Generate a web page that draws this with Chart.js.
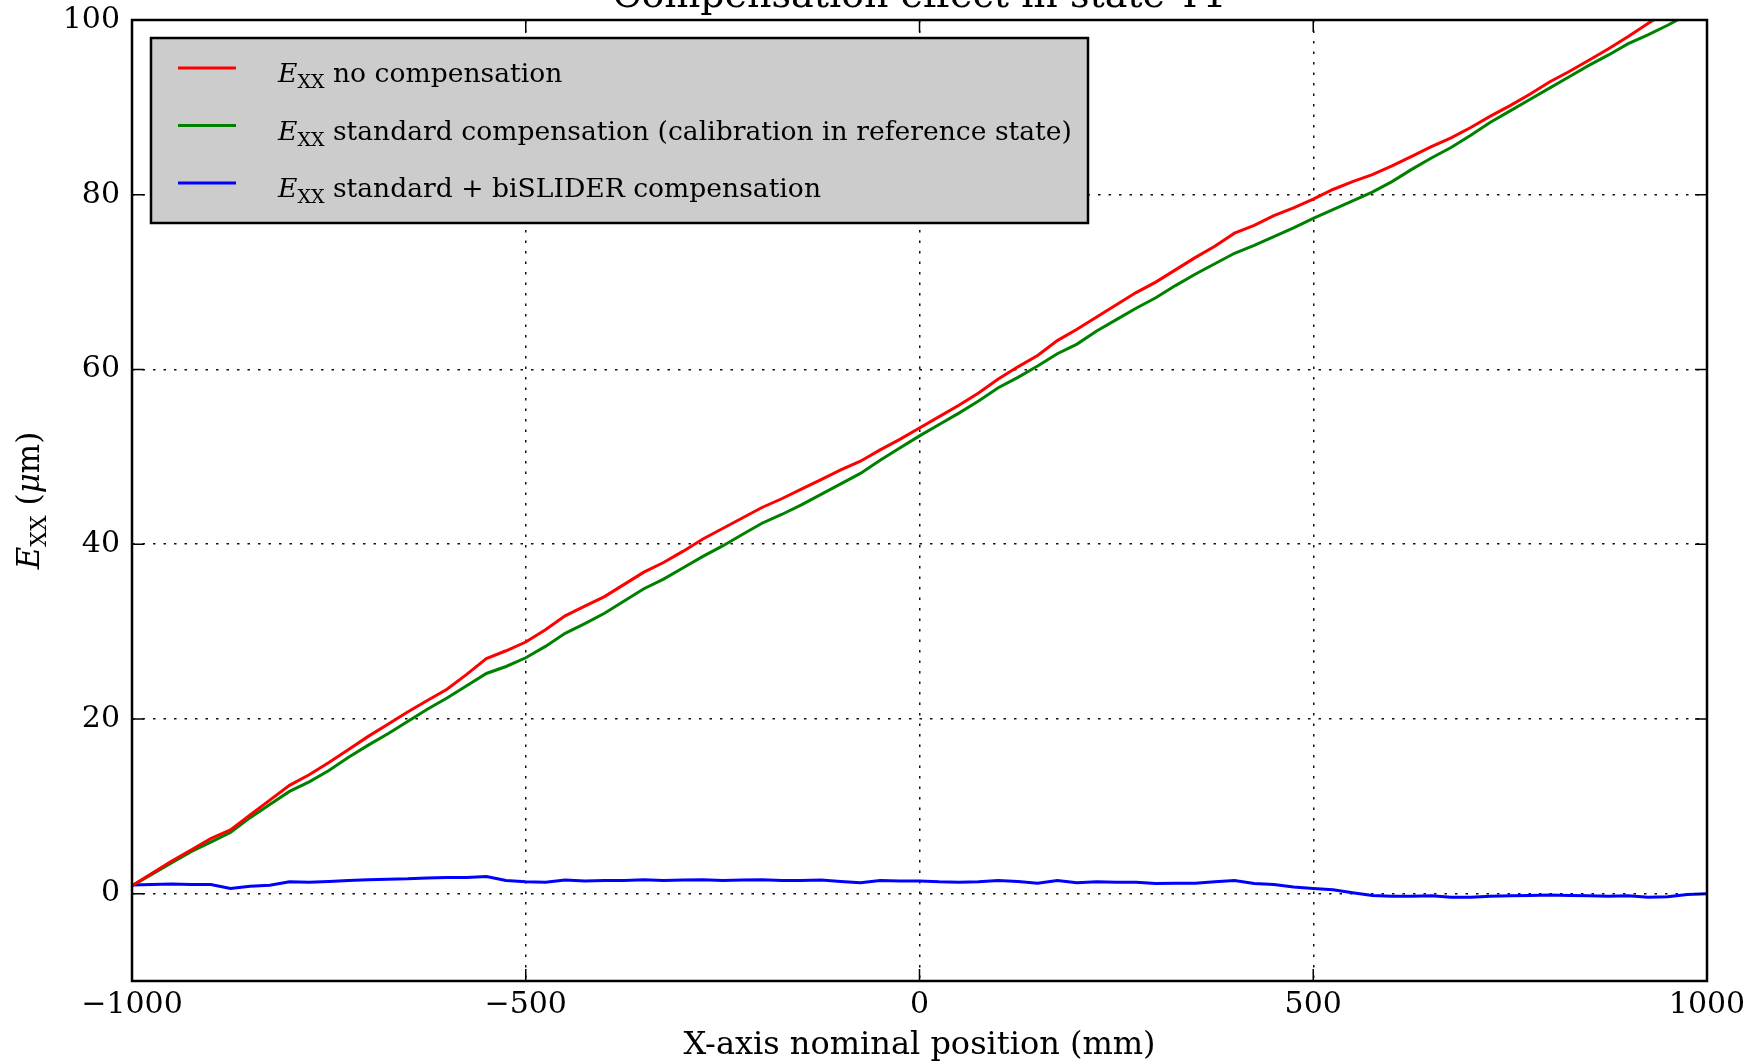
<!DOCTYPE html>
<html>
<head>
<meta charset="utf-8">
<title>Compensation effect in state T1</title>
<script src="https://cdn.jsdelivr.net/npm/chart.js@4.4.1/dist/chart.umd.min.js"></script>
<style>
    html, body { margin: 0; padding: 0; background: #fff; }
    #chart { display: block; }
</style>
</head>
<body>
<canvas id="chart" width="1762" height="1062"></canvas>
<script>
// X positions (mm)
const positions = [
    -1000, -975, -950, -925, -900, -875, -850, -825, -800, -775,
    -750, -725, -700, -675, -650, -625, -600, -575, -550, -525,
    -500, -475, -450, -425, -400, -375, -350, -325, -300, -275,
    -250, -225, -200, -175, -150, -125, -100, -75, -50, -25,
    0, 25, 50, 75, 100, 125, 150, 175, 200, 225,
    250, 275, 300, 325, 350, 375, 400, 425, 450, 475,
    500, 525, 550, 575, 600, 625, 650, 675, 700, 725,
    750, 775, 800, 825, 850, 875, 900, 925, 950, 975,
    1000
];

// E_XX no compensation (um)
const noComp = [
    0.9, 2.3, 3.7, 5.0, 6.3, 7.3, 9.0, 10.7, 12.4, 13.6,
    15.0, 16.5, 18.0, 19.4, 20.8, 22.1, 23.4, 25.1, 26.9, 27.8,
    28.8, 30.2, 31.8, 32.9, 34.0, 35.4, 36.8, 37.9, 39.2, 40.6,
    41.8, 43.0, 44.2, 45.2, 46.3, 47.4, 48.5, 49.5, 50.8, 52.0,
    53.3, 54.6, 55.9, 57.3, 58.9, 60.3, 61.6, 63.3, 64.6, 66.0,
    67.4, 68.8, 70.0, 71.4, 72.8, 74.1, 75.6, 76.5, 77.6, 78.5,
    79.5, 80.6, 81.5, 82.3, 83.3, 84.4, 85.5, 86.5, 87.7, 89.0,
    90.2, 91.5, 92.9, 94.1, 95.4, 96.7, 98.1, 99.6, 101.0, 102.3,
    103.6
];

// E_XX standard compensation
const stdComp = [
    0.9, 2.2, 3.5, 4.8, 5.9, 7.0, 8.7, 10.2, 11.7, 12.8,
    14.1, 15.6, 17.0, 18.3, 19.7, 21.1, 22.4, 23.8, 25.2, 26.0,
    27.0, 28.3, 29.8, 30.9, 32.1, 33.5, 34.9, 36.0, 37.3, 38.6,
    39.8, 41.1, 42.4, 43.4, 44.5, 45.7, 46.9, 48.1, 49.6, 51.0,
    52.4, 53.7, 55.0, 56.4, 57.9, 59.1, 60.4, 61.8, 62.9, 64.4,
    65.7, 67.0, 68.2, 69.6, 70.9, 72.1, 73.3, 74.2, 75.2, 76.2,
    77.3, 78.3, 79.3, 80.3, 81.5, 82.9, 84.2, 85.4, 86.8, 88.3,
    89.6, 90.9, 92.2, 93.5, 94.8, 96.0, 97.3, 98.3, 99.4, 100.6,
    101.7
];

// E_XX standard + biSLIDER compensation
const biSlider = [
    1.0, 1.05, 1.1, 1.05, 1.05, 0.6, 0.85, 0.95, 1.35, 1.3,
    1.4, 1.5, 1.6, 1.65, 1.7, 1.8, 1.85, 1.85, 1.95, 1.5,
    1.35, 1.3, 1.55, 1.45, 1.5, 1.5, 1.6, 1.5, 1.55, 1.6,
    1.5, 1.55, 1.6, 1.5, 1.5, 1.55, 1.4, 1.25, 1.5, 1.45,
    1.45, 1.35, 1.3, 1.35, 1.5, 1.4, 1.2, 1.5, 1.25, 1.35,
    1.3, 1.3, 1.15, 1.2, 1.2, 1.35, 1.5, 1.15, 1.05, 0.75,
    0.6, 0.45, 0.1, -0.2, -0.3, -0.3, -0.25, -0.4, -0.4, -0.3,
    -0.25, -0.2, -0.15, -0.2, -0.25, -0.3, -0.25, -0.4, -0.35, -0.1,
    0.0
];

const xTicks = [-1000, -500, 0, 500, 1000];
const yTicks = [0, 20, 40, 60, 80, 100];
const legendLabels = [
    'no compensation',
    'standard compensation (calibration in reference state)',
    'standard + biSLIDER compensation'
];
const lineColors = ['#ff0000', '#008000', '#0000ff'];

const SERIF = '"DejaVu Serif", serif';

function fmtTick(v) {
    return v < 0 ? '\u2212' + Math.abs(v) : String(v);
}

// draws runs of text pieces (for E with subscript XX)
function drawRuns(ctx, runs, x, y) {
    runs.forEach(r => {
        ctx.font = r.font;
        ctx.fillText(r.t, x, y + (r.dy || 0));
        x += ctx.measureText(r.t).width;
    });
    return x;
}

function runsWidth(ctx, runs) {
    let w = 0;
    runs.forEach(r => { ctx.font = r.font; w += ctx.measureText(r.t).width; });
    return w;
}

// keep the plot box fixed, no extra room for overhanging tick labels
function noPadding(s) {
    s.paddingTop = 0;
    s.paddingBottom = 0;
    s.paddingLeft = 0;
    s.paddingRight = 0;
}

const frameAndTicks = {
    id: 'frameAndTicks',
    afterDatasetsDraw(chart) {
        const { ctx, chartArea: a, scales: { x, y } } = chart;
        ctx.save();
        ctx.strokeStyle = '#000';
        ctx.lineWidth = 1.5;
        ctx.beginPath();
        xTicks.forEach(v => {
            const px = x.getPixelForValue(v);
            ctx.moveTo(px, a.bottom); ctx.lineTo(px, a.bottom - 12);
            ctx.moveTo(px, a.top); ctx.lineTo(px, a.top + 12);
        });
        yTicks.forEach(v => {
            const py = y.getPixelForValue(v);
            ctx.moveTo(a.left, py); ctx.lineTo(a.left + 12, py);
            ctx.moveTo(a.right, py); ctx.lineTo(a.right - 12, py);
        });
        ctx.stroke();
        ctx.lineWidth = 2.5;
        ctx.strokeRect(a.left, a.top, a.right - a.left, a.bottom - a.top);
        ctx.restore();
    }
};

const annotations = {
    id: 'annotations',
    afterDraw(chart) {
        const { ctx, chartArea: a } = chart;
        ctx.save();
        ctx.fillStyle = '#000';
        ctx.textBaseline = 'alphabetic';

        // Title (cut off by the top edge)
        ctx.font = '38px ' + SERIF;
        ctx.textAlign = 'center';
        ctx.fillText('Compensation effect in state T1', (a.left + a.right) / 2, 7);
        ctx.textAlign = 'left';

        // Y axis title
        const yRuns = [
            { t: 'E', font: 'italic 31px ' + SERIF },
            { t: 'XX', font: '22px ' + SERIF, dy: 7 },
            { t: ' (', font: '31px ' + SERIF },
            { t: '\u03bc', font: 'italic 31px ' + SERIF },
            { t: 'm)', font: '31px ' + SERIF }
        ];
        ctx.save();
        ctx.translate(28, (a.top + a.bottom) / 2);
        ctx.rotate(-Math.PI / 2);
        drawRuns(ctx, yRuns, -runsWidth(ctx, yRuns) / 2, 11);
        ctx.restore();

        // Legend
        const box = { x: 151, y: 38, w: 937, h: 185 };
        ctx.fillStyle = '#cccccc';
        ctx.fillRect(box.x, box.y, box.w, box.h);
        ctx.strokeStyle = '#000';
        ctx.lineWidth = 2.5;
        ctx.strokeRect(box.x, box.y, box.w, box.h);

        legendLabels.forEach((label, i) => {
            const ly = 68 + i * 57.5;
            ctx.strokeStyle = lineColors[i];
            ctx.lineWidth = 3;
            ctx.beginPath();
            ctx.moveTo(178, ly);
            ctx.lineTo(236, ly);
            ctx.stroke();

            ctx.fillStyle = '#000';
            drawRuns(ctx, [
                { t: 'E', font: 'italic 26.6px ' + SERIF },
                { t: 'XX', font: '19px ' + SERIF, dy: 6 },
                { t: ' ' + label, font: '26.6px ' + SERIF }
            ], 278, ly + 14);
        });
        ctx.restore();
    }
};

const seriesData = [noComp, stdComp, biSlider];

new Chart(document.getElementById('chart'), {
    type: 'line',
    data: {
        datasets: seriesData.map((vals, i) => ({
            label: legendLabels[i],
            data: positions.map((p, j) => ({ x: p, y: vals[j] })),
            borderColor: lineColors[i],
            backgroundColor: lineColors[i],
            borderWidth: 3,
            pointRadius: 0,
            tension: 0,
            fill: false
        }))
    },
    options: {
        responsive: false,
        animation: false,
        devicePixelRatio: 1,
        layout: { padding: { top: 20, right: 55, left: 0, bottom: 0 } },
        plugins: {
            legend: { display: false },
            tooltip: { enabled: false }
        },
        scales: {
            x: {
                type: 'linear',
                min: -1000,
                max: 1000,
                afterBuildTicks: s => { s.ticks = xTicks.map(v => ({ value: v })); },
                afterFit: s => { s.height = 81; noPadding(s); },
                grid: { color: '#111', lineWidth: 1.5, drawTicks: false },
                border: { display: false, dash: [2.5, 8] },
                ticks: {
                    padding: 6,
                    color: '#000',
                    maxRotation: 0,
                    font: { family: SERIF, size: 30 },
                    callback: v => fmtTick(v)
                },
                title: {
                    display: true,
                    text: 'X-axis nominal position (mm)',
                    color: '#000',
                    font: { family: SERIF, size: 32, lineHeight: 1 },
                    padding: { top: 0, bottom: 0 }
                }
            },
            y: {
                type: 'linear',
                min: -10,
                max: 100,
                afterBuildTicks: s => { s.ticks = yTicks.map(v => ({ value: v })); },
                afterFit: s => { s.width = 132; noPadding(s); },
                grid: { color: '#111', lineWidth: 1.5, drawTicks: false },
                border: { display: false, dash: [2.5, 8] },
                ticks: {
                    padding: 12,
                    color: '#000',
                    font: { family: SERIF, size: 30 },
                    callback: v => fmtTick(v)
                }
            }
        }
    },
    plugins: [frameAndTicks, annotations]
});
</script>
</body>
</html>
